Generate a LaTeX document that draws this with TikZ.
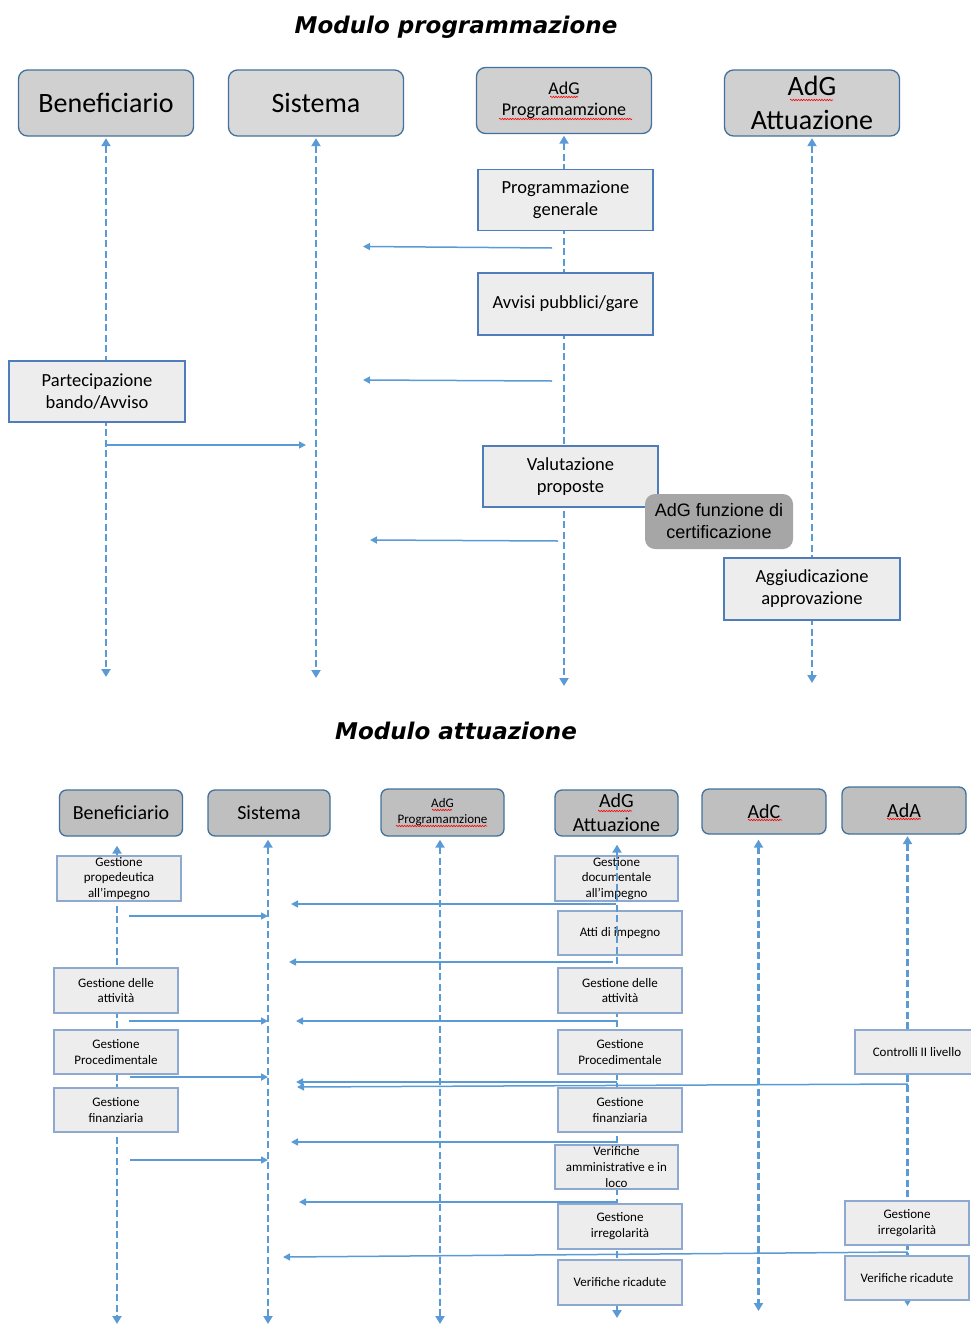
\documentclass[tikz,border=0pt]{standalone}
\usepackage{fontspec}
\setmainfont{Carlito}
\newfontfamily\arialfont{Liberation Sans}
\newfontfamily\titlefont{DejaVu Sans}
\usetikzlibrary{arrows.meta}
\usetikzlibrary{decorations.pathmorphing}
\definecolor{lblue}{HTML}{5B9BD5}
\definecolor{hborder}{HTML}{41719C}
\definecolor{bborder}{HTML}{4F7DBA}
\definecolor{sborder}{HTML}{8EA9CF}
\definecolor{hfill}{HTML}{D0D0D0}
\definecolor{hfillb}{HTML}{BFBFBF}
\definecolor{boxfill}{HTML}{EDEDED}
\definecolor{certfill}{HTML}{A6A6A6}
\tikzset{
	head/.style={rectangle,rounded corners=9pt,draw=hborder,fill=hfill,line width=1.3pt,inner sep=0pt,minimum width=175pt,minimum height=66pt,align=center,font=\fontsize{28}{33.6}\selectfont},
	headsmall/.style={head,rounded corners=7pt,fill=hfillb,minimum width=123pt,minimum height=46pt,font=\fontsize{20}{24}\selectfont},
	box/.style={rectangle,draw=bborder,fill=boxfill,line width=1.3pt,inner sep=0pt,minimum width=175pt,minimum height=61pt,align=center,font=\fontsize{18.5}{22}\selectfont},
	boxsmall/.style={box,draw=sborder,minimum width=124pt,minimum height=45pt,font=\fontsize{13}{15.8}\selectfont},
	cert/.style={rectangle,rounded corners=10pt,fill=certfill,inner sep=0pt,minimum width=148pt,minimum height=55pt,align=center,font=\arialfont\fontsize{18}{22}\selectfont},
	life/.style={draw=lblue,line width=2.4pt,dash pattern=on 7pt off 3.5pt,{Triangle[width=9pt,length=8pt]}-{Triangle[width=9pt,length=8pt]}},
	msg/.style={draw=lblue,line width=1.5pt,-{Triangle[width=7pt,length=7pt]}},
	squig/.style={draw=red,line width=0.6pt,decorate,decoration={snake,amplitude=0.7pt,segment length=2.6pt}},
	titolo/.style={font=\titlefont\bfseries\itshape\fontsize{23}{28}\selectfont},
}

\begin{document}
\begin{tikzpicture}[x=1pt,y=-1pt]
\useasboundingbox (0,0) rectangle (970,1325);
%TITOLI
\node[titolo] (t1) at (456,27) {Modulo programmazione};
\node[titolo] (t2) at (456,731) {Modulo attuazione};

%%%%% MODULO PROGRAMMAZIONE %%%%%
%INTESTAZIONI
\node[head] (hb) at (106,103) {Beneficiario};
\node[head,fill=hfill!80] (hs) at (316,103) {Sistema};
\node[head,font=\fontsize{18}{21}\selectfont] (hp) at (564,100.5) {AdG\\Programamzione};
\node[head] (ha) at (812,103) {AdG\\Attuazione};
% SOTTOLINEATURE
\draw[squig] (550,97) -- (578,97);
\draw[squig] (499,119) -- (632,119);
\draw[squig] (790,100) -- (833,100);
%LINEE DI VITA
\coordinate (lb) at (106,677);
\coordinate (ls) at (316,678);
\coordinate (lp) at (564,686);
\coordinate (la) at (812,683);
\draw[life,shorten <=1.5pt] (lb |- hb.south) -- (lb);
\draw[life,shorten <=1.5pt] (ls |- hs.south) -- (ls);
\draw[life,shorten <=1.5pt] (lp |- hp.south) -- (lp);
\draw[life,shorten <=1.5pt] (la |- ha.south) -- (la);
%ATTIVITA
\node[box] (pg) at (565.5,200) {Programmazione\\generale};
\node[box,minimum height=62pt] (av) at (565.5,304) {Avvisi pubblici/gare};
\node[box,minimum width=176pt] (pb) at (97,391.5) {Partecipazione\\bando/Avviso};
\node[box] (vp) at (570.5,476.5) {Valutazione\\proposte};
\node[cert] (cf) at (719,521.5) {AdG funzione di\\certificazione};
\node[box,minimum width=176pt,minimum height=62pt] (ag) at (812,589) {Aggiudicazione\\approvazione};
%MESSAGGI
\coordinate (m1a) at (552,248); \coordinate (m1b) at (363,246.5);
\coordinate (m2a) at (552,381); \coordinate (m2b) at (363,380);
\coordinate (m3a) at (106,445); \coordinate (m3b) at (306,445);
\coordinate (m4a) at (558,541); \coordinate (m4b) at (370,540);
\draw[msg] (m1a) -- (m1b);
\draw[msg] (m2a) -- (m2b);
\draw[msg] (m3a) -- (m3b);
\draw[msg] (m4a) -- (m4b);

%%%%% MODULO ATTUAZIONE %%%%%
%INTESTAZIONI
\node[headsmall] (bb) at (121,813) {Beneficiario};
\node[headsmall,minimum width=122pt] (bs) at (269,813) {Sistema};
\node[headsmall,minimum height=47pt,font=\fontsize{13}{16}\selectfont] (bp) at (442.5,812.5) {AdG\\Programamzione};
\node[headsmall] (ba) at (616.5,813) {AdG\\Attuazione};
\node[headsmall,minimum width=124pt,minimum height=45pt] (bc) at (764,811.5) {AdC};
\node[headsmall,minimum width=124pt,minimum height=47pt] (bd) at (904,810.5) {AdA};
% SOTTOLINEATURE
\draw[squig] (432,810) -- (452,810);
\draw[squig] (396,826) -- (487,826);
\draw[squig] (598,811) -- (632,811);
\draw[squig] (748,820) -- (782,820);
\draw[squig] (887,819) -- (921,819);
%LINEE DI VITA
\coordinate (eb) at (117,1324);
\coordinate (es) at (268,1324);
\coordinate (ep) at (440,1324);
\coordinate (ea) at (617,1318);
\coordinate (ec) at (758.5,1311);
\coordinate (ed) at (907.5,1306);
\draw[life,shorten <=9pt] (eb |- bb.south) -- (eb);
\draw[life,shorten <=3pt] (es |- bs.south) -- (es);
\draw[life,shorten <=3pt] (ep |- bp.south) -- (ep);
\draw[life,shorten <=5pt] (ec |- bc.south) -- (ec);
\draw[life,shorten <=1.5pt] (ed |- bd.south) -- (ed);
%ATTIVITA BENEFICIARIO
\node[boxsmall] (gp) at (119,878.5) {Gestione\\propedeutica\\all'impegno};
\node[boxsmall] (ga1) at (116,990.5) {Gestione delle\\attività};
\node[boxsmall,minimum height=44pt] (gr1) at (116,1052) {Gestione\\Procedimentale};
\node[boxsmall,minimum height=44pt] (gf1) at (116,1110) {Gestione\\finanziaria};
%ATTIVITA ADG ATTUAZIONE
\node[boxsmall,minimum width=123pt] (gd) at (616.5,878.5) {Gestione\\documentale\\all'impegno};
\node[boxsmall,minimum height=44pt] (ai) at (620,933) {Atti di impegno};
\draw[life,shorten <=8pt] (ea |- ba.south) -- (ea);
\node[boxsmall] (ga2) at (620,990.5) {Gestione delle\\attività};
\node[boxsmall,minimum height=44pt] (gr2) at (620,1052) {Gestione\\Procedimentale};
\node[boxsmall,minimum height=44pt] (gf2) at (620,1110) {Gestione\\finanziaria};
\node[boxsmall,minimum width=123pt,minimum height=44pt] (va) at (616.5,1167) {Verifiche\\amministrative e in\\loco};
\node[boxsmall] (gi2) at (620,1226.5) {Gestione\\irregolarità};
\node[boxsmall] (vr2) at (620,1282.5) {Verifiche ricadute};
%ATTIVITA ADA
\node[boxsmall,minimum height=44pt] (cl) at (917,1052) {Controlli II livello};
\node[boxsmall,minimum height=44pt] (gi3) at (907,1223) {Gestione\\irregolarità};
\node[boxsmall,minimum height=44pt] (vr3) at (907,1278) {Verifiche ricadute};
%MESSAGGI
\coordinate (n1a) at (616,904); \coordinate (n1b) at (291,904);
\coordinate (n2a) at (129,916); \coordinate (n2b) at (268,916);
\coordinate (n3a) at (613,962); \coordinate (n3b) at (289,962);
\coordinate (n4a) at (129,1021); \coordinate (n4b) at (268,1021);
\coordinate (n5a) at (617,1021); \coordinate (n5b) at (296,1021);
\coordinate (n6a) at (130,1077); \coordinate (n6b) at (268,1077);
\coordinate (n7a) at (617,1082); \coordinate (n7b) at (296,1082);
\coordinate (n8a) at (908,1084); \coordinate (n8b) at (297,1087);
\coordinate (n9a) at (616,1142); \coordinate (n9b) at (291,1142);
\coordinate (n10a) at (130,1160); \coordinate (n10b) at (268,1160);
\coordinate (n11a) at (616,1202); \coordinate (n11b) at (299,1202);
\coordinate (n12a) at (908,1252); \coordinate (n12b) at (283,1257);
\draw[msg] (n1a) -- (n1b);
\draw[msg] (n2a) -- (n2b);
\draw[msg] (n3a) -- (n3b);
\draw[msg] (n4a) -- (n4b);
\draw[msg] (n5a) -- (n5b);
\draw[msg,line width=1.9pt] (n6a) -- (n6b);
\draw[msg] (n7a) -- (n7b);
\draw[msg] (n8a) -- (n8b);
\draw[msg] (n9a) -- (n9b);
\draw[msg] (n10a) -- (n10b);
\draw[msg] (n11a) -- (n11b);
\draw[msg] (n12a) -- (n12b);
\end{tikzpicture}
\end{document}
